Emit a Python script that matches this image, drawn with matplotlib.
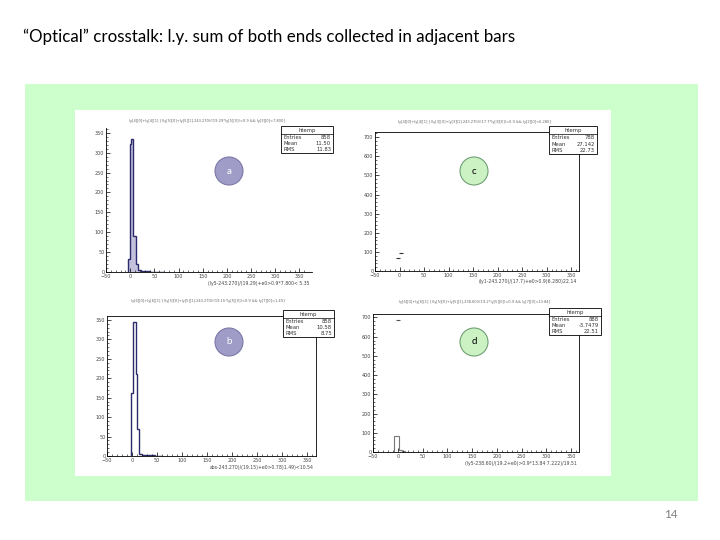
import matplotlib.pyplot as plt
from matplotlib.patches import Rectangle, Ellipse
import numpy as np

# histogram a (bin edges / counts)
a_edges = [-3.5, -0.6, 2.0, 6.6, 12.0, 16.0, 22.0, 30.0, 40.0, 55.0, 70.0]
a_counts = [33, 322, 335, 91, 20, 6, 3, 2, 1, 1]
# histogram b
b_edges = [-2.0, 2.6, 8.0, 10.6, 14.6, 20.0, 28.0, 36.0, 46.0, 60.0]
b_counts = [162, 345, 211, 70, 6, 3, 2, 2, 1]
# histogram c (only a few points visible)
c_x = [-3, 2]
c_y = [68, 94]
# histogram d
d_edges = [-8.0, 2.0, 8.0, 14.0]
d_counts = [83, 10, 4]
d_peak_x = [0]
d_peak_y = [686]

stats = {
    'a': ['858', '11.50', '11.83'],
    'b': ['858', '10.58', '8.75'],
    'c': ['788', '27.142', '22.73'],
    'd': ['888', '-3.7479', '22.51'],
}
pad_titles = {
    'a': 'ly[4][0]+ly[4][1] {(ly[5][0]+ly[5][1]-243.270)/(19.29*ly[5][0])<0.9 && ly[3][0]<7.800}',
    'b': 'ly[6][0]+ly[6][1] {(ly[5][0]+ly[5][1]-243.270)/(19.15*ly[5][0])<0.9 && ly[7][0]<1.49}',
    'c': 'ly[4][0]+ly[4][1] {(ly[3][0]+ly[3][1]-243.270)/(17.7*ly[3][0])<0.9 && ly[2][0]<6.280}',
    'd': 'ly[6][0]+ly[6][1] {(ly[5][0]+ly[5][1]-238.60)/(19.2*ly[5][0])<0.9 && ly[7][0]<13.84}',
}
x_titles = {
    'a': '(ly5-243.270)/(19.29)+e0>0.9*7.800< 5.35',
    'b': 'abs-243.270)/(19.15)+e0>0.78)1.49)<10.54',
    'c': '(ly1-243.270)/(17.7)+e0>0.9)6.280)22.14',
    'd': '(ly5-238.60)/(19.2+e0)>0.9*13.84 7.222)/19.51',
}

W, H = 720, 540
fig = plt.figure(figsize=(7.2, 5.4), dpi=100)
fig.patch.set_facecolor('white')

def fx(x):
    return x / W

def fy(y):
    return 1 - y / H

def frect(x0, y0, x1, y1, z=1, **kw):
    r = Rectangle((fx(x0), fy(y1)), fx(x1) - fx(x0), fy(y0) - fy(y1),
                  transform=fig.transFigure, zorder=z, **kw)
    fig.add_artist(r)

# title + green panel + white picture
fig.text(fx(23), fy(37), '\u201cOptical\u201d crosstalk: l.y. sum of both ends collected in adjacent bars',
         fontsize=12.2, family='Lato', va='center', ha='left', color='black')
frect(25, 84, 698, 501, z=-10, facecolor='#ccffcc', edgecolor='none')
frect(75, 110, 611, 476, z=-9, facecolor='white', edgecolor='none')
fig.text(fx(671), fy(515), '14', fontsize=8.5, family='Lato', color='#7f7f7f',
         ha='center', va='center')

def make_ax(x0, x1, y0, y1, xlim, ylim, yticks, frame=True):
    ax = fig.add_axes([fx(x0), fy(y1), fx(x1) - fx(x0), fy(y0) - fy(y1)])
    ax.set_facecolor('none')
    ax.set_xlim(*xlim)
    ax.set_ylim(*ylim)
    ax.set_xticks(np.arange(-50, 351, 50))
    ax.set_xticks(np.arange(-50, 361, 10), minor=True)
    ax.set_yticks(yticks)
    ax.set_yticks(np.arange(0, ylim[1], (yticks[1] - yticks[0]) / 5), minor=True)
    ax.tick_params(which='both', direction='in', labelsize=3.5, colors='black',
                   labelcolor='#444444', pad=1.2)
    ax.tick_params(which='major', length=3, width=0.5)
    ax.tick_params(which='minor', length=1.5, width=0.4)
    for s in ax.spines.values():
        s.set_linewidth(0.6)
    if not frame:
        ax.spines['top'].set_visible(False)
        ax.spines['right'].set_visible(False)
    return ax

def stats_box(x0, y0, x1, y1, vals):
    frect(x0, y0, x1, y1, z=3, facecolor='white', edgecolor='black', linewidth=0.6)
    hy = y0 + (y1 - y0) * 0.3
    fig.add_artist(plt.Line2D([fx(x0), fx(x1)], [fy(hy), fy(hy)],
                              transform=fig.transFigure, color='black', lw=0.5, zorder=4))
    fig.text(fx((x0 + x1) / 2), fy((y0 + hy) / 2), 'htemp', fontsize=3.8,
             ha='center', va='center', color='#333333', zorder=5)
    rows = ['Entries', 'Mean', 'RMS']
    step = (y1 - hy) / 3
    for i, (r, v) in enumerate(zip(rows, vals)):
        yy = hy + step * (i + 0.5)
        fig.text(fx(x0 + 2), fy(yy), r, fontsize=3.8, ha='left', va='center',
                 color='#333333', zorder=5)
        fig.text(fx(x1 - 2), fy(yy), v, fontsize=3.8, ha='right', va='center',
                 color='#333333', zorder=5)

def circle(cx, cy, label, fc, ec, tc):
    r = 14
    e = Ellipse((fx(cx), fy(cy)), 2 * r / W, 2 * r / H, transform=fig.transFigure,
                facecolor=fc, edgecolor=ec, linewidth=0.8, zorder=3)
    fig.add_artist(e)
    fig.text(fx(cx), fy(cy), label, fontsize=7, family='Lato', ha='center',
             va='center', color=tc, zorder=5)

# pad a
ax_a = make_ax(106, 312, 128, 272, (-36, 376), (0, 362), np.arange(0, 351, 50), frame=False)
ax_a.stairs(a_counts, a_edges, color='#9b98c4', alpha=0.6, fill=True)
ax_a.stairs(a_counts, a_edges, color='#2b2b6e', lw=1.0, fill=False)

# pad b
ax_b = make_ax(107, 316, 316, 456, (-43, 367), (0, 360), np.arange(0, 351, 50))
ax_b.stairs(b_counts, b_edges, color='#2b2b6e', lw=1.0, fill=False)

# pad c
ax_c = make_ax(375, 579, 132, 271, (-46, 366), (0, 727), np.arange(0, 701, 100))
ax_c.plot(c_x, c_y, ls='none', marker='_', ms=3, mew=0.8, color='#333333')

# pad d
ax_d = make_ax(373, 579, 314, 452, (-50, 366), (0, 718), np.arange(0, 701, 100))
ax_d.stairs(d_counts, d_edges, color='#777777', lw=0.8, fill=False)
ax_d.plot(d_peak_x, d_peak_y, ls='none', marker='_', ms=2.5, mew=0.8, color='#555555')

# pad titles and x-axis titles
for key, (tx, ty, lx, ly) in {'a': (207, 121, 310, 283), 'b': (208, 301, 314, 467),
                              'c': (475, 122, 577, 282), 'd': (475, 302, 577, 463)}.items():
    fig.text(fx(tx), fy(ty), pad_titles[key], fontsize=2.6, ha='center', va='center', color='#666666')
    fig.text(fx(lx), fy(ly), x_titles[key], fontsize=3.3, ha='right', va='center', color='#444444')

stats_box(281, 126, 333, 153, stats['a'])
stats_box(283, 310, 334, 337, stats['b'])
stats_box(549, 126, 597, 154, stats['c'])
stats_box(549, 308, 601, 335, stats['d'])

circle(229, 171, 'a', '#a09cc8', '#7d79a8', 'white')
circle(229, 342, 'b', '#a09cc8', '#7d79a8', 'white')
circle(474, 171, 'c', '#ccf2c4', '#6f9f74', 'black')
circle(474, 342, 'd', '#ccf2c4', '#6f9f74', 'black')

fig.savefig('out.png', dpi=100)
